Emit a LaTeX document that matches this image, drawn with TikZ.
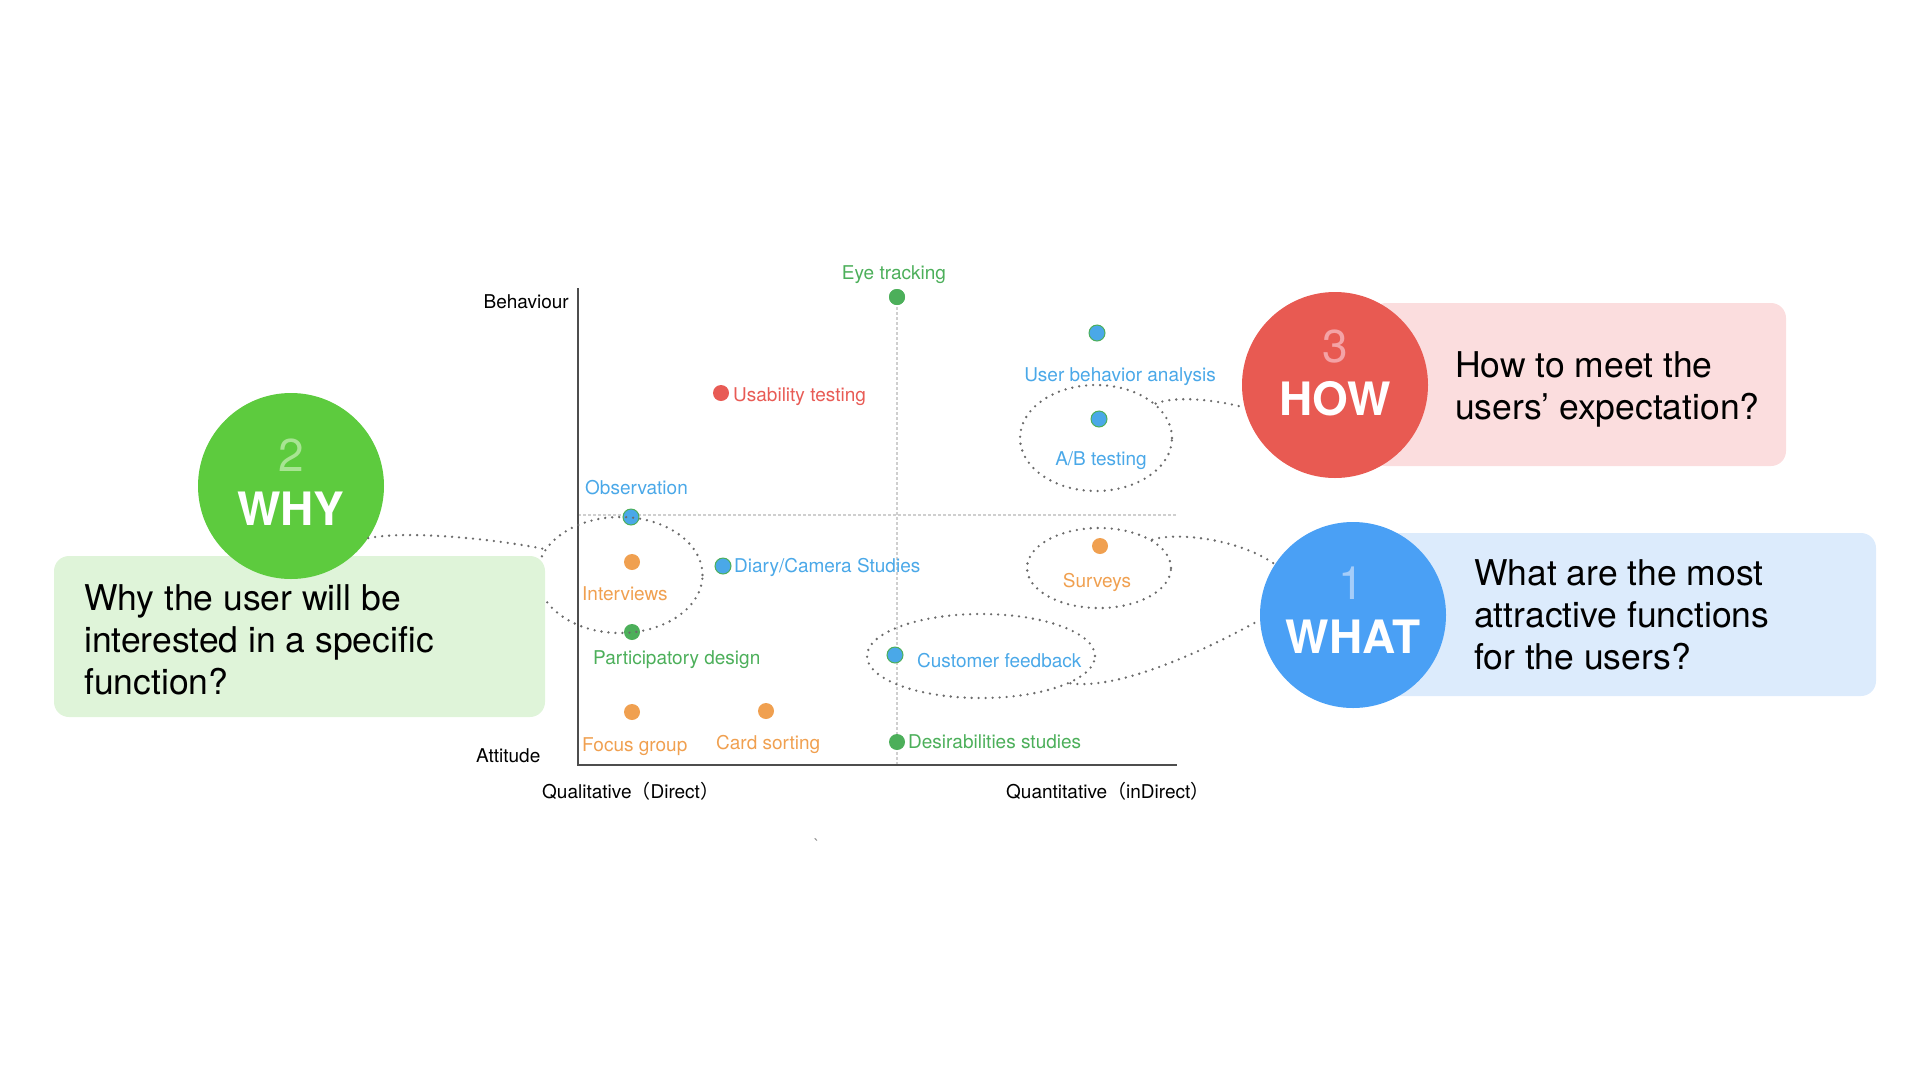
\documentclass[tikz,border=0pt]{standalone}
\usepackage{fontspec}
\setmainfont{TeX Gyre Heros}
\newfontfamily\cjk{Noto Sans CJK SC}
\usepackage{tikz}
\usetikzlibrary{shapes.geometric,positioning}

\definecolor{ptgreen}{HTML}{4CAF5A}
\definecolor{ptblue}{HTML}{4AA8E8}
\definecolor{ptorange}{HTML}{F0A050}
\definecolor{ptred}{HTML}{E85B55}
\definecolor{whygreen}{HTML}{5DCB3E}
\definecolor{howred}{HTML}{E85A52}
\definecolor{whatblue}{HTML}{4AA0F5}
\definecolor{whybox}{HTML}{DFF4D9}
\definecolor{howbox}{HTML}{FBDDDE}
\definecolor{whatbox}{HTML}{DCEBFC}
\definecolor{whynum}{HTML}{A8E493}
\definecolor{hownum}{HTML}{F4A3A6}
\definecolor{whatnum}{HTML}{A5CDF9}
\definecolor{linkgray}{HTML}{6B6B6B}
\definecolor{guidegray}{HTML}{CFCFCF}
\definecolor{axisgray}{HTML}{4D4D4D}

\tikzset{
  pt/.style={circle,inner sep=0,minimum size=16},
  bpt/.style={pt,fill=ptblue,draw=ptgreen,line width=1pt},
  gpt/.style={pt,fill=ptgreen},
  opt/.style={pt,fill=ptorange},
  rpt/.style={pt,fill=ptred},
  lbl/.style={inner sep=0,font=\fontsize{19}{22}\selectfont},
  axlbl/.style={inner sep=0,text=black,font=\fontsize{19}{22}\selectfont},
  ring/.style={ellipse,inner sep=0,draw=linkgray,line width=2.6pt,line cap=round,dash pattern=on 0pt off 7pt},
  link/.style={draw=linkgray,line width=2.6pt,line cap=round,dash pattern=on 0pt off 7pt},
  guide/.style={draw=guidegray,line width=1.2pt,dash pattern=on 3pt off 2pt},
  axis/.style={draw=axisgray,line width=2pt},
  qbox/.style={rectangle,rounded corners=15pt,inner sep=0},
  qtxt/.style={anchor=north west,inner sep=0,align=left,font=\fontsize{35.5}{42}\selectfont},
  bigdot/.style={circle,inner sep=0,minimum size=186},
  numtxt/.style={inner sep=0,font=\fontsize{46}{50}\selectfont},
  captxt/.style={inner sep=0,text=white,font=\fontsize{46}{50}\selectfont\bfseries}
}

\begin{document}
\begin{tikzpicture}[x=1pt,y=-1pt]
\useasboundingbox (0,0) rectangle (1920,1080);

% chart frame
\coordinate (top) at (578,288);
\coordinate (org) at (578,765);
\coordinate (end) at (1177,765);
\coordinate (midl) at (578,515);
\coordinate (midr) at (1177,515);
\coordinate (midb) at (897,765);

\node[gpt] (eye) at (897,297) {};
\draw[guide] (midl) -- (midr);
\draw[guide] (eye.center) -- (midb);
\draw[axis] (top) -- (org) -- (end);
\node[gpt] at (eye) {};

\node[axlbl,anchor=base east] (behav) at (569,308) {Behaviour};
\node[axlbl,anchor=base west] (attit) at (476,762) {Attitude};
\node[axlbl,anchor=base west] (qual) at (542,798) {Qualitative{\cjk （}Direct{\cjk ）}};
\node[axlbl,anchor=base west] (quant) at (1006,798) {Quantitative{\cjk （}inDirect{\cjk ）}};

% methods
\node[lbl,text=ptgreen,anchor=base] (eyetxt) at (894,279) {Eye tracking};
\node[bpt] (uba) at (1097,333) {};
\node[lbl,text=ptblue,anchor=base] (ubatxt) at (1120,381) {User behavior analysis};
\node[bpt] (ab) at (1099,419) {};
\node[lbl,text=ptblue,anchor=base] (abtxt) at (1101,465) {A/B testing};
\node[rpt] (usab) at (721,393) {};
\node[lbl,text=ptred,anchor=base west] (usabtxt) at (733,401) {Usability testing};
\node[bpt] (obs) at (631,517) {};
\node[lbl,text=ptblue,anchor=base west] (obstxt) at (585,494) {Observation};
\node[opt] (intv) at (632,562) {};
\node[lbl,text=ptorange,anchor=base west] (intvtxt) at (582,600) {Interviews};
\node[gpt] (part) at (632,632) {};
\node[lbl,text=ptgreen,anchor=base west] (parttxt) at (593,664) {Participatory design};
\node[bpt] (diary) at (723,566) {};
\node[lbl,text=ptblue,anchor=base west] (diarytxt) at (734,572) {Diary/Camera Studies};
\node[opt] (surv) at (1100,546) {};
\node[lbl,text=ptorange,anchor=base] (survtxt) at (1097,587) {Surveys};
\node[bpt] (cust) at (895,655) {};
\node[lbl,text=ptblue,anchor=base west] (custtxt) at (917,667) {Customer feedback};
\node[opt] (focus) at (632,712) {};
\node[lbl,text=ptorange,anchor=base west] (focustxt) at (582,751) {Focus group};
\node[opt] (card) at (766,711) {};
\node[lbl,text=ptorange,anchor=base west] (cardtxt) at (716,749) {Card sorting};
\node[gpt] (desir) at (897,742) {};
\node[lbl,text=ptgreen,anchor=base west] (desirtxt) at (908,748) {Desirabilities studies};

\node[text=gray,inner sep=0,font=\fontsize{16}{18}\selectfont] (tick) at (817,845) {\textasciigrave};

% groups
\node[ring,minimum width=152,minimum height=106] (abring) at (1096,438) {};
\node[ring,minimum width=165,minimum height=116] (obsring) at (620,575) {};
\node[ring,minimum width=144,minimum height=80] (svring) at (1099,568) {};
\node[ring,minimum width=228,minimum height=84] (cfring) at (981,656) {};

% questions
\node[qbox,fill=whybox,minimum width=491,minimum height=161] (whybx) at (299.5,636.5) {};
\node[qbox,fill=howbox,minimum width=415,minimum height=163] (howbx) at (1578.5,384.5) {};
\node[qbox,fill=whatbox,minimum width=492,minimum height=163] (whatbx) at (1630,614.5) {};
\node[qtxt] (whytxt) at (84,584.5) {Why the user will be\\interested in a specific\\function?};
\node[qtxt] (howtxt) at (1455,351.5) {How to meet the\\users’ expectation?};
\node[qtxt] (whattxt) at (1474,559.5) {What are the most\\attractive functions\\for the users?};

\node[bigdot,fill=whygreen] (why) at (291,486) {};
\node[numtxt,text=whynum] (whynr) at (291,455.5) {2};
\node[captxt] (whycap) at (291,508.5) {WHY};
\node[bigdot,fill=howred] (how) at (1335,385) {};
\node[numtxt,text=hownum] (hownr) at (1335,346.5) {3};
\node[captxt] (howcap) at (1335,398.5) {HOW};
\node[bigdot,fill=whatblue] (what) at (1353,615) {};
\node[numtxt,text=whatnum] (whatnr) at (1351,583) {1};
\node[captxt] (whatcap) at (1353,636.5) {WHAT};

\draw[link] (why.-34) .. controls +(40,-8) and +(-50,-10) .. (obsring.161);
\draw[link] (abring.30) .. controls +(20,-8) and +(-30,-8) .. (how.194);
\draw[link] (svring.28) .. controls +(25,-8) and +(-35,-25) .. (what.147);
\draw[link] (cfring.-17) .. controls +(50,7) and +(-50,28) .. (what.183);

\end{tikzpicture}
\end{document}
